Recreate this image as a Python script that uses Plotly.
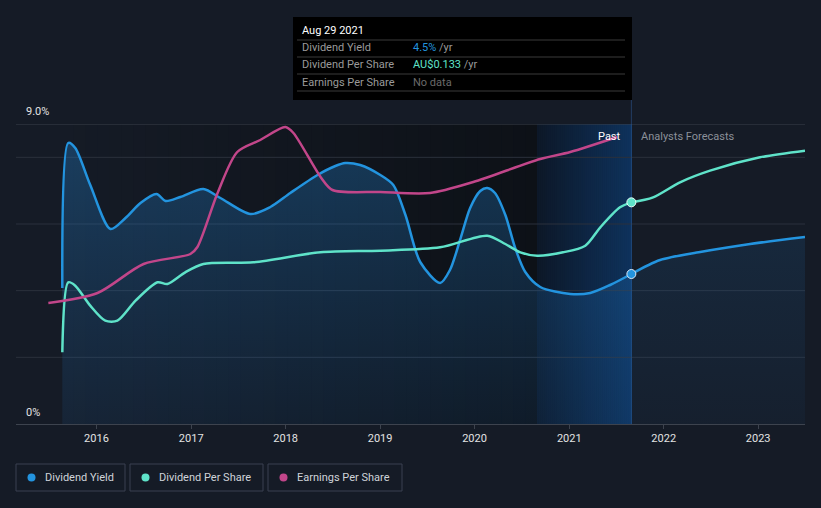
import plotly.graph_objects as go

# ---------------- data ----------------
dy_dates = ["2015-08-22", "2015-09-14", "2015-10-11", "2015-12-08", "2016-02-24", "2016-04-22",
            "2016-06-19", "2016-08-20", "2016-09-24", "2016-11-20", "2017-02-17", "2017-04-24",
            "2017-08-18", "2017-11-03", "2018-01-19", "2018-05-04", "2018-07-12", "2018-08-19",
            "2018-10-16", "2019-01-02", "2019-02-21", "2019-04-09", "2019-06-05", "2019-08-21",
            "2019-09-28", "2019-11-06", "2019-12-15", "2020-01-23", "2020-02-19", "2020-03-20",
            "2020-04-29", "2020-06-06", "2020-07-15", "2020-09-11", "2021-01-05", "2021-03-23",
            "2021-06-08", "2021-08-29"]
dy_values = [4.08, 8.43, 8.28, 7.17, 5.85, 6.18, 6.63, 6.9, 6.69, 6.81, 7.05, 6.78,
             6.3, 6.51, 6.93, 7.47, 7.74, 7.83, 7.77, 7.47, 7.17, 6.27, 4.86, 4.23,
             4.62, 5.52, 6.48, 6.99, 7.08, 6.93, 6.27, 5.28, 4.56, 4.11, 3.9, 3.93,
             4.17, 4.5]
dy_fc_dates = ["2021-08-29", "2021-12-18", "2022-05-22", "2022-12-01", "2023-07-01"]
dy_fc_values = [4.5, 4.92, 5.16, 5.4, 5.61]

dps_dates = ["2015-08-22", "2015-09-14", "2015-10-11", "2015-12-08", "2016-02-04", "2016-03-22",
             "2016-05-31", "2016-08-24", "2016-10-01", "2016-12-09", "2017-02-17", "2017-08-29",
             "2018-05-16", "2019-01-02", "2019-08-21", "2020-02-19", "2020-04-29", "2020-06-26",
             "2020-08-30", "2020-12-08", "2021-03-04", "2021-05-01", "2021-07-16", "2021-08-29"]
dps_values = [0.043, 0.085, 0.083, 0.071, 0.062, 0.062, 0.074, 0.085, 0.084, 0.091, 0.096, 0.097,
              0.103, 0.104, 0.106, 0.113, 0.108, 0.103, 0.101, 0.103, 0.107, 0.118, 0.130, 0.133]
dps_fc_dates = ["2021-08-29", "2021-11-21", "2022-03-05", "2022-06-29", "2023-01-08", "2023-07-01"]
dps_fc_values = [0.133, 0.136, 0.145, 0.152, 0.160, 0.164]

eps_dates = ["2015-06-29", "2016-01-05", "2016-07-01", "2016-12-29", "2017-01-25", "2017-04-13",
             "2017-06-28", "2017-09-25", "2017-12-31", "2018-01-31", "2018-05-16", "2018-07-01",
             "2019-01-02", "2019-07-13", "2019-12-27", "2020-09-11", "2021-01-05", "2021-07-05"]
eps_values = [0.121, 0.131, 0.160, 0.170, 0.177, 0.231, 0.272, 0.284, 0.297, 0.291, 0.247, 0.234,
              0.232, 0.231, 0.242, 0.265, 0.272, 0.287]

x_tick_labels = ["2016", "2017", "2018", "2019", "2020", "2021", "2022", "2023"]
x_tick_vals = [f"{y}-01-01" for y in x_tick_labels]

hover_date = "2021-08-29"

# ---------------- colours ----------------
BG = "#151b26"
BLUE = "#2394df"
TEAL = "#5fe3c9"
MAG = "#c2468a"

# plot area in pixels
L, R, T, B = 16, 805, 124, 424


def px(x):
    return (x - L) / (R - L)


def py(y):
    return (B - y) / (B - T)


def lerp(c0, c1, t):
    return tuple(round(a + (b - a) * t) for a, b in zip(c0, c1))


fig = go.Figure()

fill_grad = dict(type="vertical",
                 colorscale=[[0, "rgba(35,120,200,0.10)"], [1, "rgba(35,135,215,0.32)"]])

fig.add_trace(go.Scatter(x=dy_dates, y=dy_values, mode="lines", line=dict(color=BLUE, width=2.5, shape="spline", smoothing=0.8),
                         fill="tozeroy", fillgradient=fill_grad, hoverinfo="skip", showlegend=False))
fig.add_trace(go.Scatter(x=dy_fc_dates, y=dy_fc_values, mode="lines", line=dict(color=BLUE, width=2.5, shape="spline", smoothing=0.8),
                         fill="tozeroy", fillgradient=dict(type="vertical",
                         colorscale=[[0, "rgba(35,120,200,0.05)"], [1, "rgba(35,130,210,0.13)"]]),
                         hoverinfo="skip", showlegend=False))
fig.add_trace(go.Scatter(x=dps_dates, y=dps_values, yaxis="y2", mode="lines",
                         line=dict(color=TEAL, width=2.5, shape="spline", smoothing=0.8), hoverinfo="skip", showlegend=False))
fig.add_trace(go.Scatter(x=dps_fc_dates, y=dps_fc_values, yaxis="y2", mode="lines",
                         line=dict(color=TEAL, width=2.5, shape="spline", smoothing=0.8), hoverinfo="skip", showlegend=False))
fig.add_trace(go.Scatter(x=eps_dates, y=eps_values, yaxis="y3", mode="lines",
                         line=dict(color=MAG, width=2.5, shape="spline", smoothing=0.8), hoverinfo="skip", showlegend=False))
# hover markers
fig.add_trace(go.Scatter(x=[hover_date], y=[dy_values[-1]], mode="markers",
                         marker=dict(color=BLUE, size=9, line=dict(color="#dce8f5", width=1)), hoverinfo="skip", showlegend=False))
fig.add_trace(go.Scatter(x=[hover_date], y=[dps_values[-1]], yaxis="y2", mode="markers",
                         marker=dict(color=TEAL, size=9, line=dict(color="#e8fff8", width=1)), hoverinfo="skip", showlegend=False))

shapes = []
# past region: horizontal gradient darkening towards the hover band
n = 40
x0p, x1p = 62, 537
c_start, c_end = (21, 27, 38), (13, 17, 23)
for i in range(n):
    a = x0p + (x1p - x0p) * i / n
    b = min(x0p + (x1p - x0p) * (i + 1) / n + 0.6, x1p)
    c = lerp(c_start, c_end, (i + 0.5) / n)
    shapes.append(dict(type="rect", xref="paper", yref="paper", x0=px(a), x1=px(b), y0=0, y1=1,
                       fillcolor=f"rgb{c}", line=dict(width=0), layer="below"))
# hover band gradient
n = 48
x0p, x1p = 537, 632
for i in range(n):
    a = x0p + (x1p - x0p) * i / n
    b = min(x0p + (x1p - x0p) * (i + 1) / n + 0.6, x1p)
    c = lerp((13, 24, 40), (14, 50, 92), i / (n - 1))
    shapes.append(dict(type="rect", xref="paper", yref="paper", x0=px(a), x1=px(b), y0=0, y1=1,
                       fillcolor=f"rgb{c}", line=dict(width=0), layer="below"))
# gridlines
for v in [2, 4, 6, 8, 9]:
    shapes.append(dict(type="line", xref="paper", yref="y", x0=0, x1=1, y0=v, y1=v,
                       line=dict(color="#2b313c" if v != 9 else "#3a404b", width=1), layer="below"))
# hover vertical line
shapes.append(dict(type="line", xref="x", yref="paper", x0=hover_date, x1=hover_date, y0=0, y1=py(17),
                   line=dict(color="rgba(45,90,150,0.55)", width=1), layer="below"))
# tooltip box
shapes.append(dict(type="rect", xref="paper", yref="paper", x0=px(293), x1=px(632), y0=py(100), y1=py(17),
                   fillcolor="#000000", line=dict(width=0)))
for yy in [40, 57, 74, 91]:
    shapes.append(dict(type="line", xref="paper", yref="paper", x0=px(297), x1=px(625), y0=py(yy), y1=py(yy),
                       line=dict(color="#3a3a3a", width=1)))
# legend boxes
legend_items = [("Dividend Yield", BLUE, 16, 125), ("Dividend Per Share", TEAL, 130, 263),
                ("Earnings Per Share", MAG, 268, 402)]
annotations = []
for name, col, a, b in legend_items:
    shapes.append(dict(type="rect", xref="paper", yref="paper", x0=px(a), x1=px(b), y0=py(491), y1=py(464),
                       line=dict(color="#3a4150", width=1), fillcolor="rgba(0,0,0,0)"))
    cx = a + 15.5
    shapes.append(dict(type="circle", xref="paper", yref="paper", x0=px(cx - 4), x1=px(cx + 4), y0=py(481.5), y1=py(473.5),
                       fillcolor=col, line=dict(width=0)))
    annotations.append(dict(text=name, xref="paper", yref="paper", x=px(a + 27), y=py(477.5), xanchor="left", yanchor="middle",
                            showarrow=False, font=dict(color="#cfd3d9", size=11)))

# y labels
annotations.append(dict(text="9.0%", xref="paper", yref="paper", x=px(24), y=py(112), xanchor="left", yanchor="middle",
                        showarrow=False, font=dict(color="#e3e3e3", size=11)))
annotations.append(dict(text="0%", xref="paper", yref="paper", x=px(24), y=py(412), xanchor="left", yanchor="middle",
                        showarrow=False, font=dict(color="#e3e3e3", size=11)))
# Past / forecasts
annotations.append(dict(text="Past", xref="paper", yref="paper", x=px(623), y=py(136), xanchor="right", yanchor="middle",
                        showarrow=False, font=dict(color="#ffffff", size=11)))
annotations.append(dict(text="Analysts Forecasts", xref="paper", yref="paper", x=px(639), y=py(136), xanchor="left", yanchor="middle",
                        showarrow=False, font=dict(color="#8b9099", size=11)))
# tooltip text
annotations.append(dict(text="Aug 29 2021", xref="paper", yref="paper", x=px(300), y=py(31), xanchor="left", yanchor="middle",
                        showarrow=False, font=dict(color="#ffffff", size=11)))
rows = [("Dividend Yield", f"<span style='color:{BLUE}'>4.5%</span> /yr", 48),
        ("Dividend Per Share", f"<span style='color:{TEAL}'>AU$0.133</span> /yr", 65),
        ("Earnings Per Share", "<span style='color:#6a6a6a'>No data</span>", 82)]
for lab, val, yy in rows:
    annotations.append(dict(text=lab, xref="paper", yref="paper", x=px(300), y=py(yy), xanchor="left", yanchor="middle",
                            showarrow=False, font=dict(color="#9a9a9a", size=11)))
    annotations.append(dict(text=val, xref="paper", yref="paper", x=px(411), y=py(yy), xanchor="left", yanchor="middle",
                            showarrow=False, font=dict(color="#9a9a9a", size=11)))

fig.update_layout(
    width=821, height=508,
    margin=dict(l=L, r=821 - R, t=T, b=508 - B),
    paper_bgcolor=BG, plot_bgcolor="rgba(0,0,0,0)",
    font=dict(family="Roboto, sans-serif"),
    showlegend=False,
    xaxis=dict(range=["2015-02-24", "2023-07-01"], tickvals=x_tick_vals, ticktext=x_tick_labels,
               showgrid=False, zeroline=False, showline=True, linecolor="#3d434e", linewidth=1,
               ticks="outside", ticklen=4, tickcolor="#3d434e", tickfont=dict(color="#e3e3e3", size=11)),
    yaxis=dict(range=[0, 9], showgrid=False, zeroline=False, showticklabels=False, fixedrange=True),
    yaxis2=dict(range=[0, 0.18], overlaying="y", visible=False),
    yaxis3=dict(range=[0, 0.30], overlaying="y", visible=False),
    shapes=shapes, annotations=annotations,
)

fig.write_html("out.html", config={"displayModeBar": False},
               post_script="document.body.style.margin='0';document.body.style.background='#151b26';")
